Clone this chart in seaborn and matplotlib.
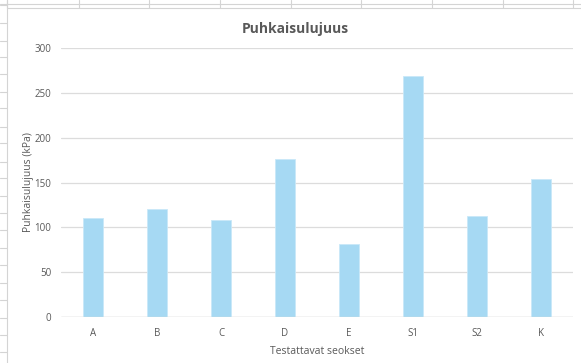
import matplotlib
matplotlib.use("Agg")
import matplotlib.pyplot as plt
from matplotlib.lines import Line2D
import seaborn as sns
import pandas as pd

# Puncture strength per tested mix
mixes = ["A", "B", "C", "D", "E", "S1", "S2", "K"]
strength_kpa = [110, 121, 108, 176, 81, 269, 113, 154]
y_ticks = [0, 50, 100, 150, 200, 250, 300]

df = pd.DataFrame({"seos": mixes, "lujuus": strength_kpa})

sns.set_theme(style="white")
plt.rcParams["font.family"] = ["Open Sans", "DejaVu Sans"]

W, H = 581, 363
fig = plt.figure(figsize=(W / 100, H / 100), dpi=100)
fig.patch.set_facecolor("white")

# spreadsheet cell grid around the embedded chart
grid_col = "#d4d4d4"
def px_line(x0, y0, x1, y1):
    fig.add_artist(Line2D([x0 / W, x1 / W], [1 - y0 / H, 1 - y1 / H],
                          color=grid_col, lw=0.8, transform=fig.transFigure))

px_line(0, 3.5, W, 3.5)
for x in [7, 79, 149, 220, 291, 361, 432, 503, 573]:
    px_line(x, 0, x, 8)
for y in [5, 23, 41, 57, 74, 92, 108, 127, 143, 162, 178, 196, 213, 230,
          248, 265, 283, 300, 318, 335, 352]:
    px_line(0, y, 7, y)
px_line(7, 0, 7, H)
px_line(7, 8, W, 8)

ax = fig.add_axes([61 / W, 1 - 317 / H, (573 - 61) / W, (317 - 48) / H])
sns.barplot(data=df, x="seos", y="lujuus", ax=ax, color="#a6d9f3",
            saturation=1, width=0.32, edgecolor="#c9e8f8", linewidth=0.6,
            zorder=3)

ax.set_ylim(0, 300)
ax.set_yticks(y_ticks)
ax.set_yticklabels([str(v) for v in y_ticks])
ax.grid(axis="y", color="#dcdcdc", lw=0.9, zorder=0)
ax.grid(axis="x", visible=False)
for s in ax.spines.values():
    s.set_visible(False)
ax.axhline(0, color="#d9d9d9", lw=1.0, zorder=4)
ax.tick_params(axis="both", length=0, labelsize=7, colors="#595959")
ax.tick_params(axis="y", pad=7)
ax.tick_params(axis="x", pad=8)

ax.set_xlabel("Testattavat seokset", fontsize=7.5, color="#595959", labelpad=5)
ax.set_ylabel("Puhkaisulujuus (kPa)", fontsize=7.5, color="#595959", labelpad=0)

fig.text(295 / W, 1 - 29 / H, "Puhkaisulujuus", ha="center", va="center",
         fontsize=10, fontweight="bold", color="#595959")

fig.savefig("out.png", dpi=100, facecolor="white")
